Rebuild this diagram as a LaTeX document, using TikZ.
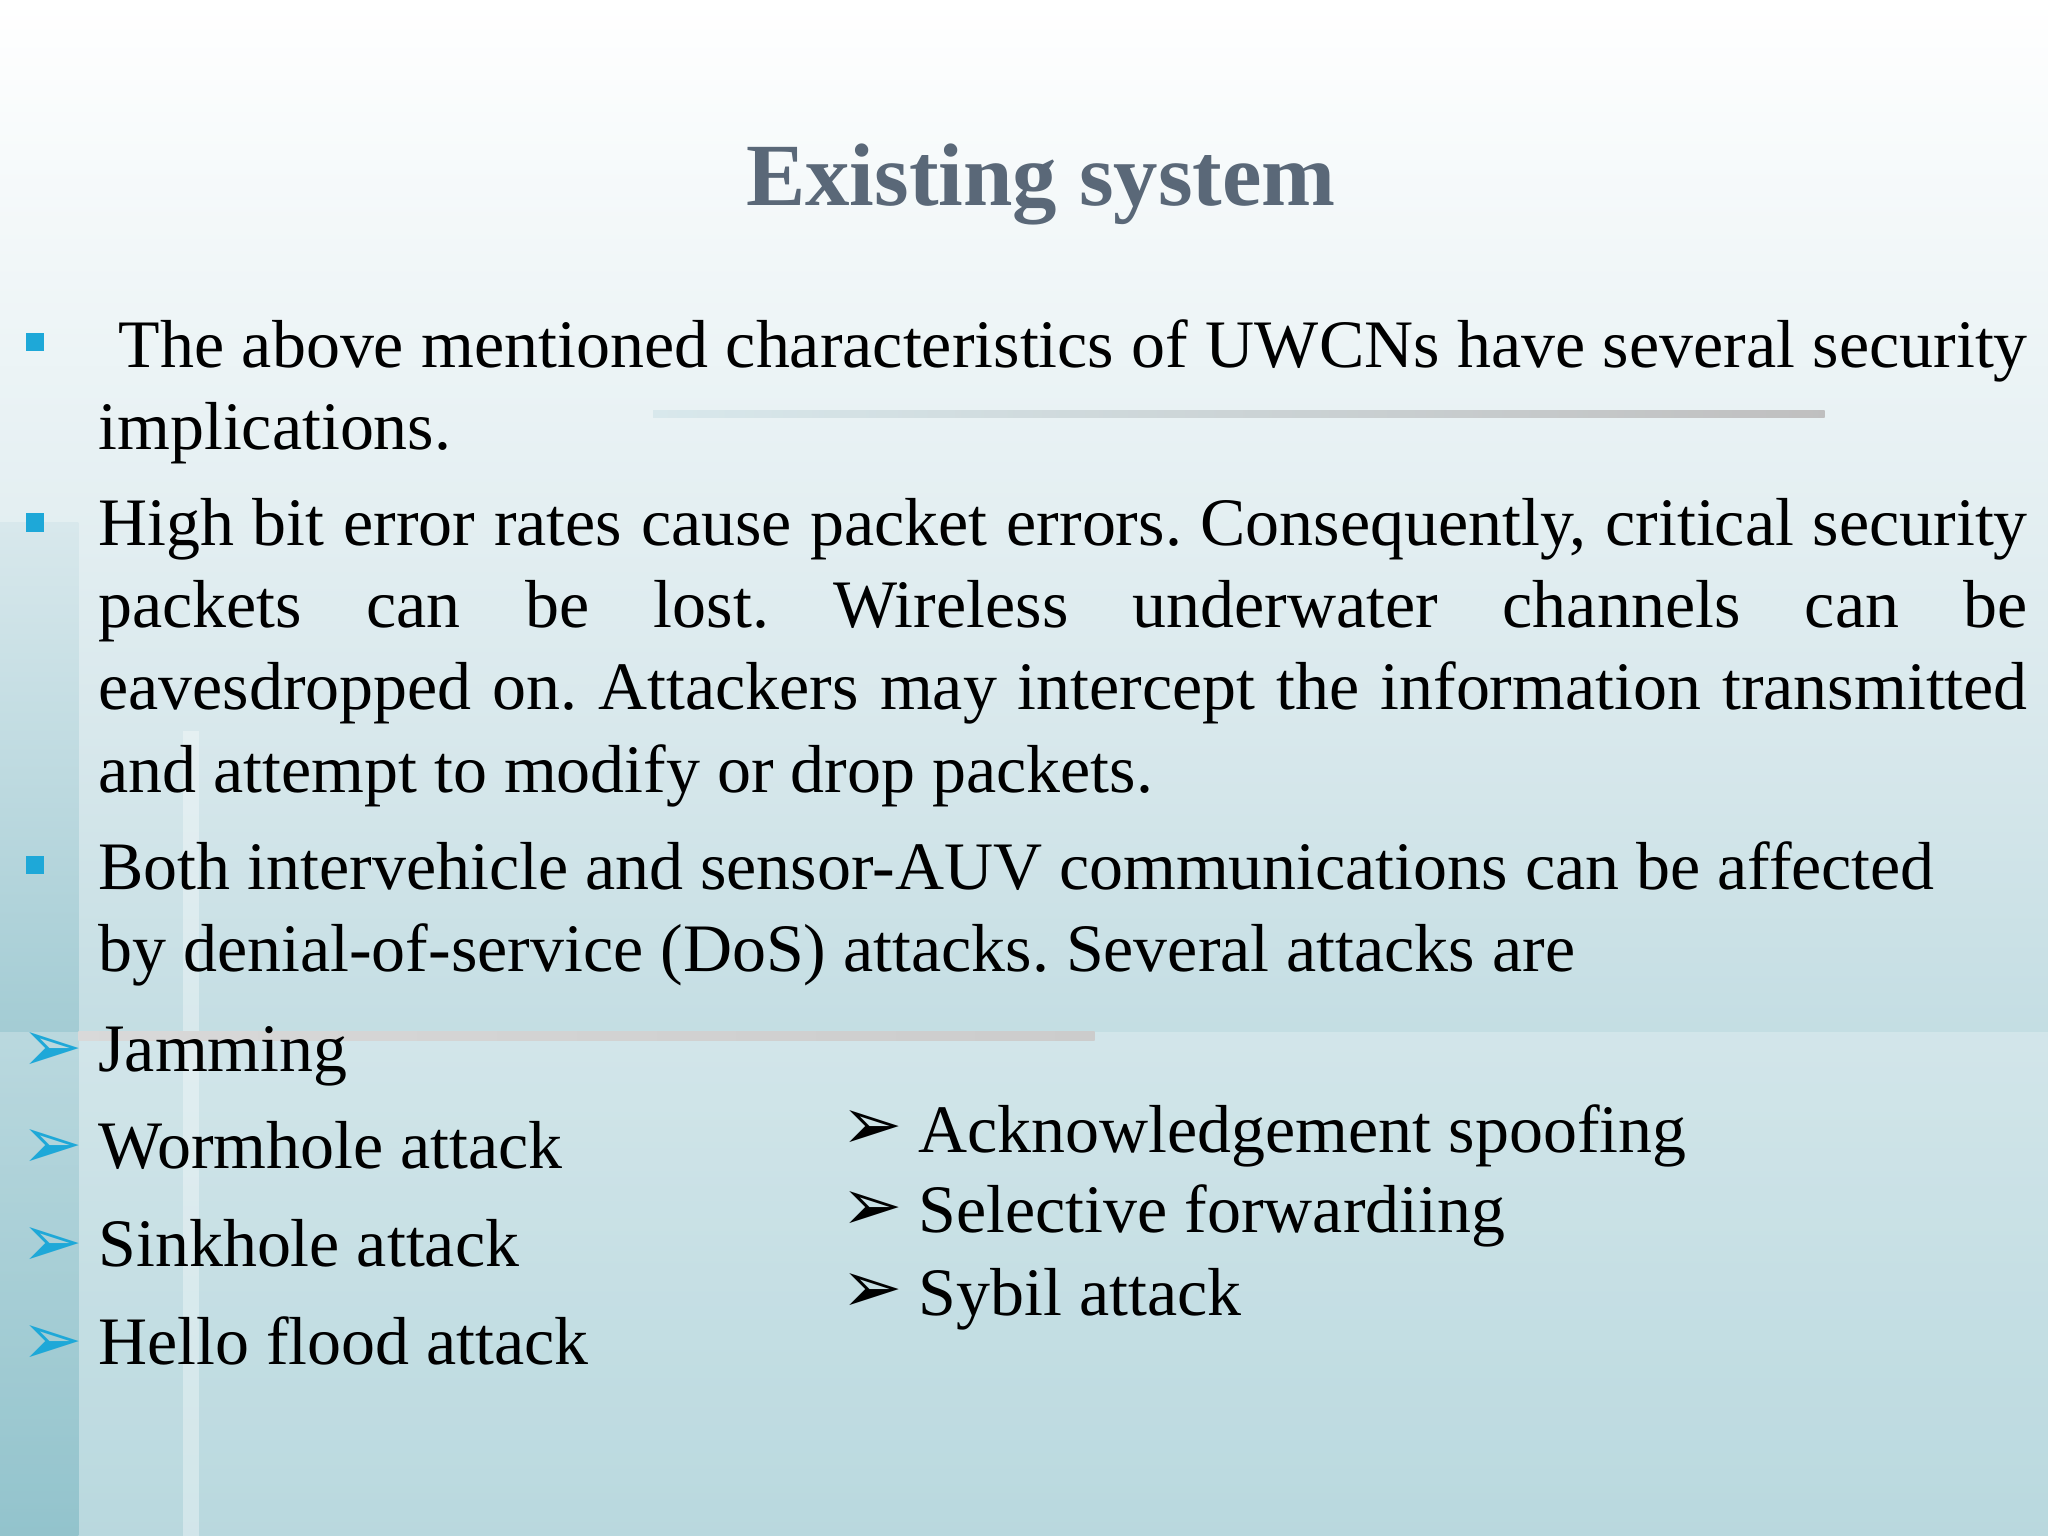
\documentclass[tikz,border=0pt]{standalone}
\usepackage{fontspec}
\setmainfont{Liberation Serif}
\newfontfamily\symf{DejaVu Sans}
\frenchspacing
\hyphenpenalty=10000\relax
\exhyphenpenalty=10000\relax
\definecolor{titlec}{HTML}{5A6878}
\definecolor{sq}{HTML}{1EA8D8}
\definecolor{bgtop}{HTML}{FFFFFF}
\definecolor{bgmid}{HTML}{D8E8EC}
\definecolor{bgbot}{HTML}{A2CCD4}
\definecolor{strip}{HTML}{6FB0BC}
\tikzset{
  para/.style={anchor=north west,inner sep=0pt,text width=738.5pt,align=justify,font=\fontsize{26}{31.5}\selectfont},
  item/.style={anchor=base west,inner sep=0pt,font=\fontsize{26}{31.5}\selectfont},
  sqb/.style={fill=sq,minimum size=7pt,inner sep=0pt},
  arrc/.style={anchor=base west,inner sep=0pt,font=\symf\fontsize{28}{30}\selectfont,text=sq},
  arrk/.style={anchor=base west,inner sep=0pt,font=\symf\fontsize{28}{30}\selectfont}
}
\begin{document}
\begin{tikzpicture}[x=0.5pt,y=-0.5pt]
\useasboundingbox (0,0) rectangle (1568,1176);
\shade[top color=bgtop,bottom color=bgmid] (0,0) rectangle (1568,560);
\shade[top color=bgmid,bottom color=bgbot] (0,560) rectangle (1568,1176);
\shade[top color=bgmid,bottom color=strip] (0,400) rectangle (60,1176);
\fill[white,opacity=0.35] (140,560) rectangle (152,1176);
\fill[white,opacity=0.25] (0,790) rectangle (1568,1176);
\shade[left color=bgmid,right color=gray!50] (500,314) rectangle (1397,320);
\shade[left color=gray!30,right color=gray!40] (60,790) rectangle (838,797);
\node[anchor=base,inner sep=0pt,font=\bfseries\fontsize{34}{40}\selectfont,text=titlec] (title) at (797,157) {Existing system};
\node[sqb] (b1) at (27,262) {};
\node[sqb] (b2) at (27,400) {};
\node[sqb] (b3) at (27,662) {};
\node[para] (p1) at (75,244) {\hspace{0.3em}The above mentioned characteristics of UWCNs have several security\linebreak implications.};
\node[para] (p2) at (75,381) {High bit error rates cause packet errors. Consequently, critical security\linebreak packets can be lost. Wireless underwater channels can be\linebreak eavesdropped on. Attackers may intercept the information transmitted\linebreak and attempt to modify or drop packets.};
\node[para] (p3) at (75,644) {Both intervehicle and sensor-AUV communications can be affected\newline by denial-of-service (DoS) attacks. Several attacks are};
\node[arrc] (a1) at (16,820) {➢};
\node[arrc] (a2) at (16,895) {➢};
\node[arrc] (a3) at (16,970) {➢};
\node[arrc] (a4) at (16,1045) {➢};
\node[item] (i1) at (75,820) {Jamming};
\node[item] (i2) at (75,895) {Wormhole attack};
\node[item] (i3) at (75,970) {Sinkhole attack};
\node[item] (i4) at (75,1045) {Hello flood attack};
\node[arrk] (r1) at (644,880) {➢};
\node[arrk] (r2) at (644,942) {➢};
\node[arrk] (r3) at (644,1005) {➢};
\node[item] (j1) at (703,882) {Acknowledgement spoofing};
\node[item] (j2) at (703,944) {Selective forwardiing};
\node[item] (j3) at (703,1007) {Sybil attack};
\end{tikzpicture}
\end{document}
